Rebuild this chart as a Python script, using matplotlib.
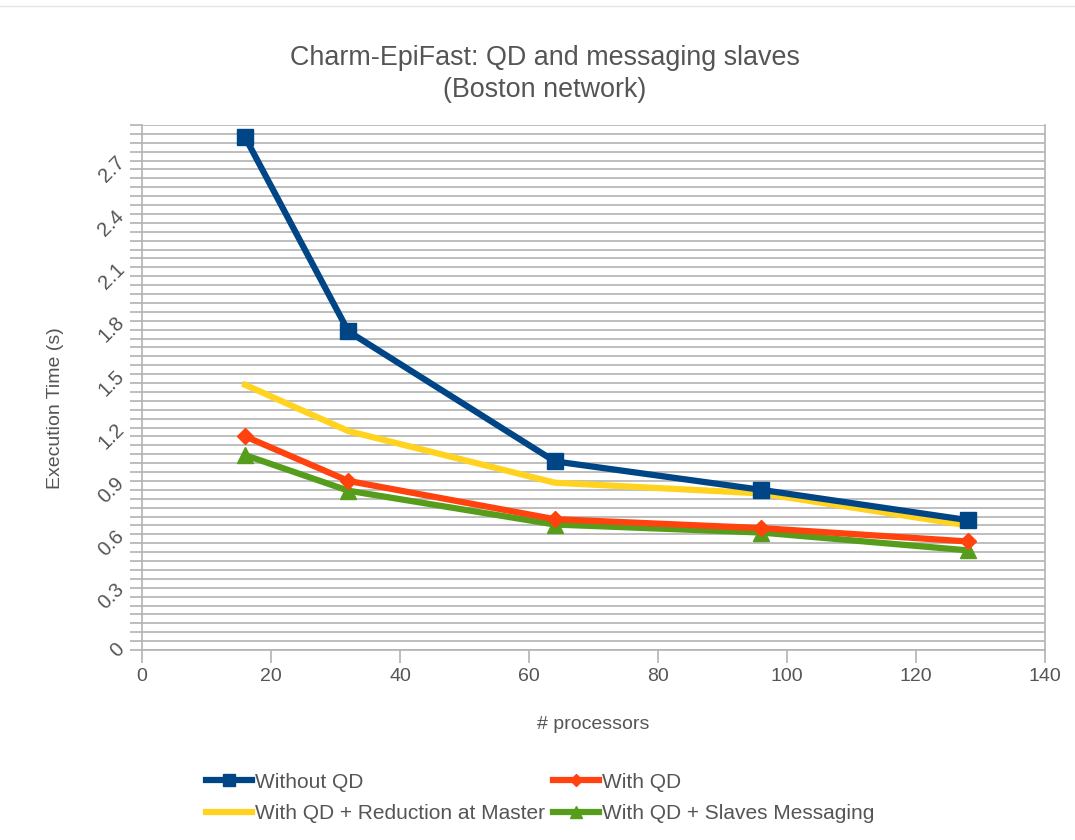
import numpy as np
import matplotlib.pyplot as plt
from matplotlib.ticker import MultipleLocator

plt.rcParams['font.family'] = ['Liberation Sans', 'DejaVu Sans']

procs = [16, 32, 64, 96, 128]
without_qd = [2.88, 1.79, 1.06, 0.90, 0.73]
with_qd = [1.20, 0.95, 0.735, 0.685, 0.61]
qd_reduction = [1.49, 1.23, 0.94, 0.88, 0.70]
qd_slaves = [1.095, 0.895, 0.705, 0.66, 0.56]

grey = '#555555'
grid_col = '#b3b3b3'

fig = plt.figure(figsize=(10.75, 8.4), dpi=100)
ax = fig.add_axes([142 / 1075, 1 - 650 / 840, 903 / 1075, 525 / 840])

l1, = ax.plot(procs, without_qd, color='#004586', lw=4.5, marker='s', ms=11.5,
              label='Without QD', zorder=5)
l2, = ax.plot(procs, with_qd, color='#ff420e', lw=4.5, marker='D', ms=8,
              label='With QD', zorder=4)
l3, = ax.plot(procs, qd_reduction, color='#ffd320', lw=4.5,
              label='With QD + Reduction at Master', zorder=3)
l4, = ax.plot(procs, qd_slaves, color='#579d1c', lw=4.5, marker='^', ms=11,
              label='With QD + Slaves Messaging', zorder=3)

ax.set_xlim(0, 140)
ax.set_ylim(0, 2.95)
ax.xaxis.set_major_locator(MultipleLocator(20))
ax.yaxis.set_major_locator(MultipleLocator(0.3))
ax.yaxis.set_minor_locator(MultipleLocator(0.05))
ax.grid(axis='y', which='both', color=grid_col, lw=1.2)
ax.set_axisbelow(True)

ax.spines['top'].set_visible(False)
for s in ['left', 'right', 'bottom']:
    ax.spines[s].set_color(grid_col)
    ax.spines[s].set_linewidth(1.2)

ax.tick_params(axis='y', which='both', length=9, color=grid_col, width=1.2,
               labelsize=14.5, labelcolor=grey, pad=1)
ax.tick_params(axis='x', which='major', length=9, color=grid_col, width=1.2,
               labelsize=14, labelcolor=grey, pad=4)
yt = np.arange(0, 2.71, 0.3)
ax.set_yticks(yt)
ax.set_yticklabels(['0' if v == 0 else f'{v:.1f}' for v in yt],
                   rotation=45, ha='right', va='center')

ax.set_xlabel('# processors', fontsize=14, color=grey, labelpad=22)
ax.set_ylabel('Execution Time (s)', fontsize=14, color=grey)
ax.yaxis.set_label_coords(-78 / 903, (650 - 408) / 525)

fig.text(545 / 1075, 1 - 74 / 840,
         'Charm-EpiFast: QD and messaging slaves\n(Boston network)',
         ha='center', va='center', fontsize=19.4, color=grey, linespacing=1.3)

# row-wise order: matplotlib fills legend columns top to bottom
leg = fig.legend([l1, l3, l2, l4],
                 [l1.get_label(), l3.get_label(), l2.get_label(), l4.get_label()],
                 loc='center', ncol=2,
                 bbox_to_anchor=(540 / 1075, 1 - 798 / 840),
                 frameon=False, fontsize=15, handlelength=2.2,
                 handletextpad=0.15, columnspacing=0.4, labelspacing=0.6,
                 markerscale=0.8)
for t in leg.get_texts():
    t.set_color(grey)

fig.add_artist(plt.Line2D([0, 1], [1 - 6 / 840, 1 - 6 / 840], color='#e5e5e5', lw=1))

fig.savefig('out.png', dpi=100)
